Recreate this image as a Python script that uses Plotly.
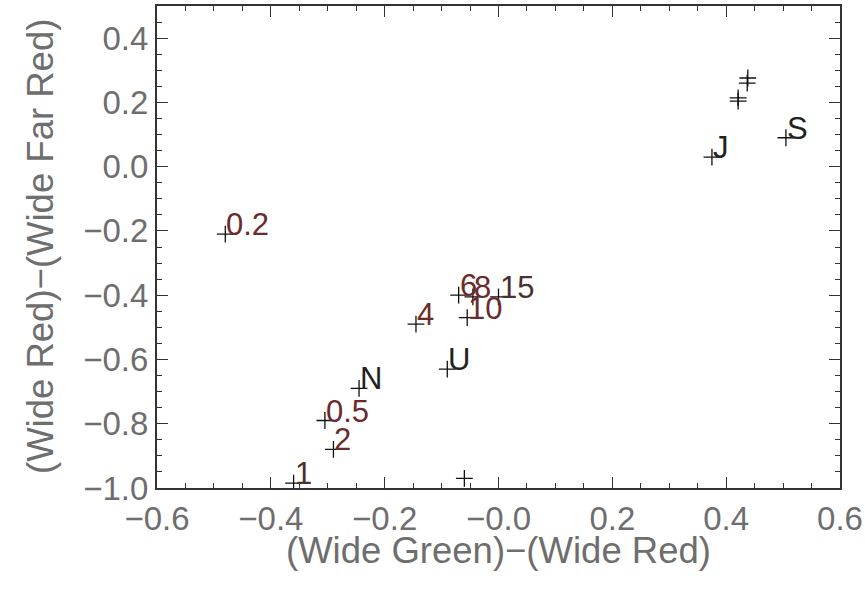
import plotly.graph_objects as go

# Labelled points (green-red colour, red-farred colour)
labels = ["0.2", "6", "8", "15", "10", "4", "U", "N", "0.5", "2", "1", "J", "S"]
label_x = [-0.48, -0.07, -0.045, 0.0, -0.055, -0.145, -0.09, -0.245, -0.305, -0.29, -0.36, 0.375, 0.505]
label_y = [-0.21, -0.40, -0.405, -0.405, -0.47, -0.49, -0.63, -0.69, -0.79, -0.88, -0.985, 0.03, 0.09]
label_colors = ["#6b2b2b", "#6b2b2b", "#6b2b2b", "#4a3030", "#6b2b2b", "#6b2b2b", "#222222",
                "#222222", "#6b2b2b", "#6b2b2b", "#4a3030", "#222222", "#222222"]

# Unlabelled points
extra_x = [-0.06, 0.438, 0.437, 0.421, 0.421]
extra_y = [-0.97, 0.276, 0.26, 0.214, 0.204]

x_ticks = [-0.6, -0.4, -0.2, 0.0, 0.2, 0.4, 0.6]
x_ticktext = ["\u22120.6", "\u22120.4", "\u22120.2", "\u22120.0", "0.2", "0.4", "0.6"]
y_ticks = [-1.0, -0.8, -0.6, -0.4, -0.2, 0.0, 0.2, 0.4]
y_ticktext = ["\u22121.0", "\u22120.8", "\u22120.6", "\u22120.4", "\u22120.2", "0.0", "0.2", "0.4"]

x_title = "(Wide Green)\u2212(Wide Red)"
y_title = "(Wide Red)\u2212(Wide Far Red)"

FONT = "Liberation Sans, Arial, sans-serif"
AX_COLOR = "#333333"
TXT_COLOR = "#6e6e6e"

fig = go.Figure()
fig.add_trace(go.Scatter(
    x=label_x + extra_x, y=label_y + extra_y, mode="markers",
    marker=dict(symbol="cross-thin", size=12, line=dict(width=1.3, color="#111111"), color="#111111"),
    showlegend=False, hoverinfo="skip"))

annotations = []
for t, x, y, c in zip(labels, label_x, label_y, label_colors):
    annotations.append(dict(x=x, y=y, xref="x", yref="y", text=t, showarrow=False,
                            xanchor="left", yanchor="bottom", xshift=-1, yshift=-10,
                            font=dict(family=FONT, size=31, color=c)))

# axis titles
annotations.append(dict(x=0.5, y=-0.13, xref="paper", yref="paper", text=x_title,
                        showarrow=False, xanchor="center", yanchor="middle",
                        font=dict(family=FONT, size=36.5, color=TXT_COLOR)))
annotations.append(dict(x=-0.1713, y=0.5, xref="paper", yref="paper", text=y_title,
                        showarrow=False, xanchor="center", yanchor="middle", textangle=-90,
                        font=dict(family=FONT, size=36.5, color=TXT_COLOR)))

axis_common = dict(
    showgrid=False, zeroline=False, showline=True, linecolor=AX_COLOR, linewidth=2,
    mirror="ticks", ticks="inside", ticklen=11, tickwidth=1.3, tickcolor=AX_COLOR,
    tickfont=dict(family=FONT, size=33, color=TXT_COLOR),
    automargin=False,
    minor=dict(dtick=0.05, ticks="inside", ticklen=5, tickwidth=1.1, tickcolor=AX_COLOR, showgrid=False),
)

fig.update_layout(
    width=865, height=590,
    margin=dict(l=157, r=25, t=6, b=102),
    paper_bgcolor="white", plot_bgcolor="white",
    font=dict(family=FONT),
    annotations=annotations,
    xaxis=dict(range=[-0.6, 0.6], tickvals=x_ticks, ticktext=x_ticktext, **axis_common),
    yaxis=dict(range=[-1.0, 0.5], tickvals=y_ticks, ticktext=y_ticktext, **axis_common),
)

fig.write_html(
    "out.html",
    config={"displayModeBar": False},
    post_script="document.body.style.margin='0';document.body.style.overflow='hidden';",
)
